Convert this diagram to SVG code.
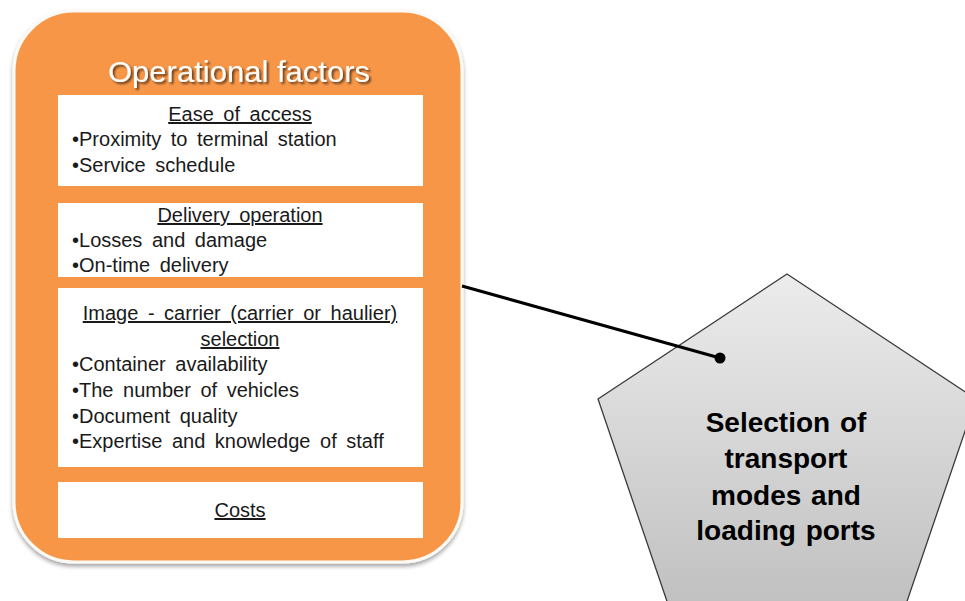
<svg xmlns="http://www.w3.org/2000/svg" width="965" height="601" viewBox="0 0 965 601">
  <defs>
    <linearGradient id="pentGrad" x1="0" y1="0" x2="0" y2="1">
      <stop offset="0" stop-color="#ececec"/>
      <stop offset="1" stop-color="#b9b9b9"/>
    </linearGradient>
    <filter id="shadow" x="-10%" y="-10%" width="120%" height="120%">
      <feGaussianBlur in="SourceAlpha" stdDeviation="2"/>
      <feOffset dx="0" dy="3" result="b"/>
      <feComponentTransfer><feFuncA type="linear" slope="0.35"/></feComponentTransfer>
      <feMerge><feMergeNode/><feMergeNode in="SourceGraphic"/></feMerge>
    </filter>
    <filter id="textShadow" x="-10%" y="-20%" width="120%" height="150%">
      <feGaussianBlur in="SourceAlpha" stdDeviation="1"/>
      <feOffset dx="1.5" dy="1.5"/>
      <feComponentTransfer><feFuncA type="linear" slope="0.6"/></feComponentTransfer>
      <feMerge><feMergeNode/><feMergeNode in="SourceGraphic"/></feMerge>
    </filter>
  </defs>
  <style>
    .box { fill: #ffffff; }
    .body { font-family: "Liberation Sans", Arial, sans-serif; font-size: 20px; fill: #1a1a1a; word-spacing: 4px; }
    .head { text-anchor: middle; text-decoration: underline; }
    .title { font-family: "Liberation Sans", Arial, sans-serif; font-size: 29px; fill: #ffffff; text-anchor: middle; }
    .pent { font-family: "Liberation Sans", Arial, sans-serif; font-size: 28px; font-weight: bold; fill: #000000; text-anchor: middle; word-spacing: 2px; }
  </style>
  <rect width="965" height="601" fill="#ffffff"/>

  <g id="operational-factors">
    <rect x="14" y="11" width="448" height="551" rx="60" ry="60" fill="#f79646" stroke="#fdfaf5" stroke-width="3" filter="url(#shadow)"/>
    <text class="title" x="239" y="82" textLength="262" lengthAdjust="spacingAndGlyphs" filter="url(#textShadow)">Operational factors</text>
  </g>

  <g id="ease-of-access">
    <rect class="box" x="58" y="95" width="365" height="91"/>
    <text class="body head" x="240" y="121">Ease of access</text>
    <text class="body" x="72" y="146">•Proximity to terminal station</text>
    <text class="body" x="72" y="172">•Service schedule</text>
  </g>

  <g id="delivery-operation">
    <rect class="box" x="58" y="203" width="365" height="74"/>
    <text class="body head" x="240" y="222">Delivery operation</text>
    <text class="body" x="72" y="247">•Losses and damage</text>
    <text class="body" x="72" y="272">•On-time delivery</text>
  </g>

  <g id="image-carrier">
    <rect class="box" x="58" y="288" width="365" height="179"/>
    <text class="body head" x="240" y="320">Image - carrier (carrier or haulier)</text>
    <text class="body head" x="240" y="346">selection</text>
    <text class="body" x="72" y="371">•Container availability</text>
    <text class="body" x="72" y="397">•The number of vehicles</text>
    <text class="body" x="72" y="423">•Document quality</text>
    <text class="body" x="72" y="448">•Expertise and knowledge of staff</text>
  </g>

  <g id="costs">
    <rect class="box" x="58" y="482" width="365" height="56"/>
    <text class="body head" x="240" y="517">Costs</text>
  </g>

  <g id="selection">
    <polygon points="787,274 976,399 887,660 687,660 598,399" fill="url(#pentGrad)" stroke="#3a3a3a" stroke-width="1.3"/>
    <text class="pent" x="786" y="432">Selection of</text>
    <text class="pent" x="786" y="468">transport</text>
    <text class="pent" x="786" y="505">modes and</text>
    <text class="pent" x="786" y="540">loading ports</text>
  </g>

  <g id="connectors">
    <line x1="462" y1="286" x2="720" y2="358" stroke="#000000" stroke-width="3"/>
    <circle cx="720" cy="358" r="5.5" fill="#000000"/>
  </g>
</svg>
